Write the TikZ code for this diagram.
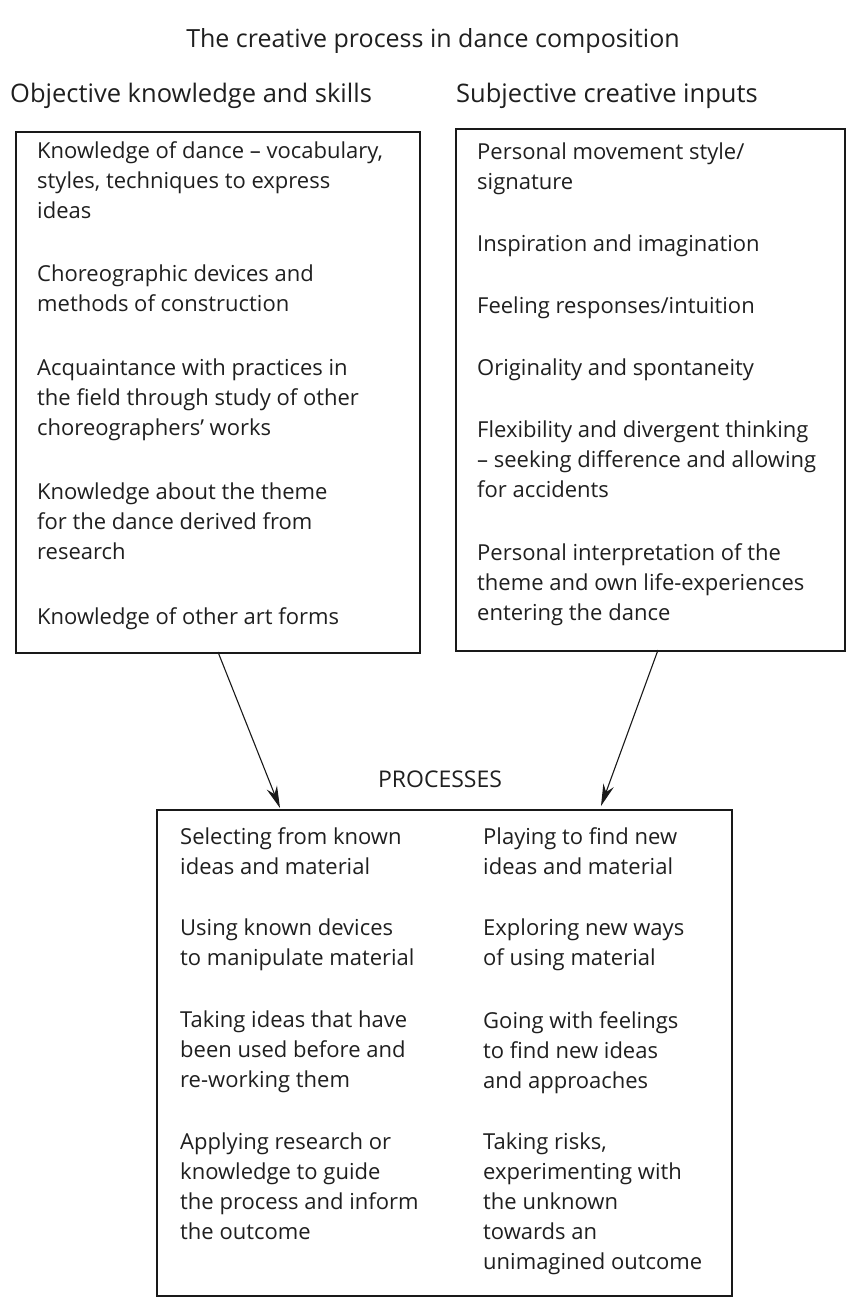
\documentclass[tikz,border=0pt]{standalone}
\usepackage{fontspec}
\setmainfont{Open Sans}
\usetikzlibrary{arrows.meta}
\begin{document}
\begin{tikzpicture}[x=1pt,y=-1pt,
  box/.style={draw=black!90, line width=2.2pt, inner sep=0pt, anchor=north west},
  txt/.style={anchor=north west, align=left, inner sep=0pt, font=\fontsize{22}{30}\selectfont, text=black!88},
  head/.style={anchor=base west, inner sep=0pt, font=\fontsize{25.5}{29}\selectfont, text=black!88},
  arr/.style={draw=black!90, line width=1.1pt, -{Stealth[length=22pt,width=11pt]}}]
\useasboundingbox (0,0) rectangle (849,1297);
% title and headings
\node[anchor=base, inner sep=0pt, font=\fontsize{25}{29}\selectfont, text=black!88] (title) at (433,48) {The creative process in dance composition};
\node[head] (hobj) at (10,103) {Objective knowledge and skills};
\node[head] (hsub) at (456,103) {Subjective creative inputs};
% boxes
\node[box, minimum width=404pt, minimum height=521pt] (lbox) at (15,131) {};
\node[box, minimum width=389pt, minimum height=522pt] (rbox) at (455,128) {};
\node[box, minimum width=575pt, minimum height=486pt] (pbox) at (156,809) {};
% left box text
\node[txt] (l1) at (37,141) {Knowledge of dance -- vocabulary,\\styles, techniques to express\\ideas};
\node[txt] (l2) at (37,265) {Choreographic devices and\\methods of construction};
\node[txt] (l3) at (37,359) {Acquaintance with practices in\\the field through study of other\\choreographers’ works};
\node[txt] (l4) at (37,483) {Knowledge about the theme\\for the dance derived from\\research};
\node[txt] (l5) at (37,607) {Knowledge of other art forms};
% right box text
\node[txt] (r1) at (477,143) {Personal movement style/\\signature};
\node[txt] (r2) at (477,235) {Inspiration and imagination};
\node[txt] (r3) at (477,297) {Feeling responses/intuition};
\node[txt] (r4) at (477,359) {Originality and spontaneity};
\node[txt] (r5) at (477,421) {Flexibility and divergent thinking\\-- seeking difference and allowing\\for accidents};
\node[txt] (r6) at (477,543) {Personal interpretation of the\\theme and own life-experiences\\entering the dance};
% processes
\node[anchor=base, inner sep=0pt, font=\fontsize{23}{26}\selectfont, text=black!88] (proc) at (440,787) {PROCESSES};
\node[txt] (p1) at (180,827) {Selecting from known\\ideas and material};
\node[txt] (p2) at (180,919) {Using known devices\\to manipulate material};
\node[txt] (p3) at (180,1011) {Taking ideas that have\\been used before and\\re-working them};
\node[txt] (p4) at (180,1133) {Applying research or\\knowledge to guide\\the process and inform\\the outcome};
\node[txt] (q1) at (483,827) {Playing to find new\\ideas and material};
\node[txt] (q2) at (483,919) {Exploring new ways\\of using material};
\node[txt] (q3) at (483,1011) {Going with feelings\\to find new ideas\\and approaches};
\node[txt] (q4) at (483,1133) {Taking risks,\\experimenting with\\the unknown\\towards an\\unimagined outcome};
% arrows
\coordinate (la) at (218,652);
\coordinate (lb) at (280,808);
\coordinate (ra) at (658,650);
\coordinate (rb) at (601,806);
\draw[arr] (la) -- (lb);
\draw[arr] (ra) -- (rb);
\end{tikzpicture}
\end{document}
